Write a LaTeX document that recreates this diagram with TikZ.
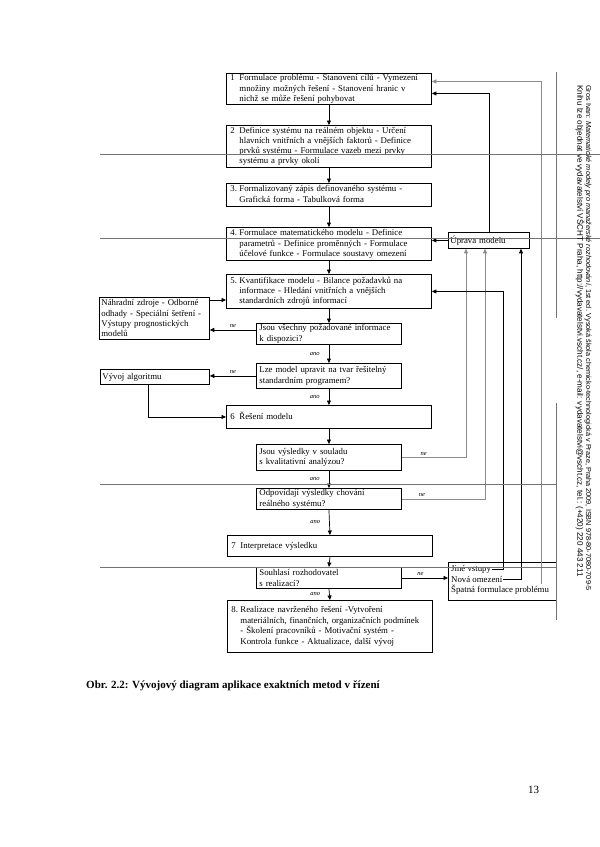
\documentclass[tikz,border=0pt]{standalone}
\usepackage{fontspec}
\setmainfont{Liberation Serif}
\newfontfamily\bocnifont{Liberation Sans}
\usetikzlibrary{arrows.meta,positioning}

\newcommand{\hlavni}{\fontsize{8.8}{10.3}\selectfont}
\newcommand{\malepismo}{\fontsize{6.5}{7}\selectfont\itshape}
\newcommand{\cislo}[1]{\begin{tabular}{@{}p{9pt}@{}l@{}}#1\end{tabular}}

\tikzset{
  krok/.style={draw, line width=0.9pt, anchor=north west, inner xsep=4pt, inner ysep=0pt, text width=197pt, font=\hlavni},
  rozhod/.style={draw, line width=0.9pt, anchor=north west, inner xsep=3pt, inner ysep=0pt, text width=139pt, align=left, font=\hlavni},
  vedlejsi/.style={draw, line width=0.8pt, anchor=north west, inner xsep=2pt, inner ysep=0pt, align=left, font=\hlavni},
  radek/.style={anchor=west, inner sep=1pt, font=\hlavni},
  sipka/.style={-{Triangle[length=4.5pt,width=4pt]}, line width=0.7pt},
  seda/.style={draw=black!45},
  popis/.style={font=\malepismo, inner sep=0pt},
  okraj/.style={draw=black!55, line width=0.6pt},
  bocni/.style={rotate=-90, anchor=west, inner sep=0pt}
}

\begin{document}
\begin{tikzpicture}[x=1pt, y=-1pt]
  \path[use as bounding box, fill=white] (0,0) rectangle (600,847);

  % hlavni kroky
  \node[krok, minimum height=31pt] (B1) at (226,73) {\cislo{1 & Formulace problému - Stanovení cílů - Vymezení\\ & množiny možných řešení - Stanovení hranic v\\ & nichž se může řešení pohybovat}};
  \node[krok, minimum height=42pt] (B2) at (226,125) {\cislo{2 & Definice systému na reálném objektu - Určení\\ & hlavních vnitřních a vnějších faktorů - Definice\\ & prvků systému - Formulace vazeb mezi prvky\\ & systému a prvky okolí}};
  \node[krok, minimum height=23pt] (B3) at (226,183) {\cislo{3. & Formalizovaný zápis definovaného systému -\\ & Grafická forma - Tabulková forma}};
  \node[krok, minimum height=33pt] (B4) at (226,227) {\cislo{4. & Formulace matematického modelu - Definice\\ & parametrů - Definice proměnných - Formulace\\ & účelové funkce - Formulace soustavy omezení}};
  \node[krok, minimum height=34pt] (B5) at (226,274) {\cislo{5. & Kvantifikace modelu - Bilance požadavků na\\ & informace - Hledání vnitřních a vnějších\\ & standardních zdrojů informací}};
  \node[krok, minimum height=23pt] (B6) at (226,405) {\cislo{6 & Řešení modelu}};
  \node[krok, minimum height=21pt] (B7) at (227,535) {\cislo{7 & Interpretace výsledku}};
  \node[krok, minimum height=52pt] (B8) at (227,600) {\cislo{8. & Realizace navrženého řešení -Vytvoření\\ & materiálních, finančních, organizačních podmínek\\ & - Školení pracovníků - Motivační systém -\\ & Kontrola funkce - Aktualizace, další vývoj}};

  % rozhodovani
  \node[rozhod, minimum height=21pt] (D1) at (256,323) {Jsou všechny požadované informace\\k dispozici?};
  \node[rozhod, minimum height=25pt] (D2) at (256,363) {Lze model upravit na tvar řešitelný\\standardním programem?};
  \node[rozhod, minimum height=26pt] (D3) at (256,444) {Jsou výsledky v souladu\\s kvalitativní analýzou?};
  \node[rozhod, minimum height=21pt] (D4) at (256,488) {Odpovídají výsledky chování\\reálného systému?};
  \node[rozhod, minimum height=21pt] (D5) at (256,567) {Souhlasí rozhodovatel\\s realizací?};

  % vedlejsi bloky
  \node[vedlejsi, text width=106pt, minimum height=42pt] (LB) at (99,297) {Náhradní zdroje - Odborné\\odhady - Speciální šetření -\\Výstupy prognostických\\modelů};
  \node[vedlejsi, text width=105pt, minimum height=15pt] (VA) at (100,369) {Vývoj algoritmu};
  \node[vedlejsi, text width=77pt, minimum height=16pt] (UM) at (448,232) {Úprava modelu};
  \node[vedlejsi, minimum width=108pt, minimum height=38pt] (SB) at (448,562) {};
  \node[radek] (JV) at (450,569) {Jiné vstupy};
  \node[radek] (NO) at (450,579.5) {Nová omezení};
  \node[radek] (SF) at (450,590) {Špatná formulace problému};

  % hlavni tok
  \draw[sipka] (B1.south) -- (B2.north);
  \draw[sipka] (B2.south) -- (B3.north);
  \draw[sipka] (B3.south) -- (B4.north);
  \draw[sipka] (B4.south) -- (B5.north);
  \draw[sipka] (B5.south) -- (D1.north);
  \draw[sipka] (D1.south) -- node[popis, left=9pt] (ano1) {ano} (D2.north);
  \draw[sipka] (D2.south) -- node[popis, left=9pt] (ano2) {ano} (B6.north);
  \draw[sipka] (B6.south) -- (D3.north);
  \draw[sipka] (D3.south) -- node[popis, left=9pt] (ano3) {ano} (D4.north);
  \draw[sipka] (D4.south) -- node[popis, left=9pt] (ano4) {ano} (B7.north);
  \draw[sipka] (B7.south) -- (D5.north);
  \draw[sipka] (D5.south) -- node[popis, left=9pt] (ano5) {ano} (B8.north);

  % vetve ne
  \path ([yshift=4pt]D1.west) coordinate (d1);
  \draw[sipka] (d1) -- node[popis, above=2pt] (ne1) {ne} (d1 -| LB.east);
  \path ([yshift=-3pt]LB.north east) coordinate (lb1);
  \draw[sipka] (lb1) -- (lb1 -| B5.west);
  \draw[sipka] (D2.west) -- node[popis, above=2pt] (ne2) {ne} (D2.west -| VA.east);
  \draw[sipka] ([xshift=-7pt]VA.south) |- (B6.west);
  \draw[sipka, seda] (D3.east) -| node[popis, pos=0.17, above=2pt] (ne3) {ne} ([xshift=18pt]UM.south west);
  \draw[sipka, seda] (D4.east) -| node[popis, pos=0.12, above=2pt] (ne4) {ne} ([xshift=37pt]UM.south west);
  \draw[sipka] (D5.east) -- node[popis, pos=0.4, above=2pt] (ne5) {ne} (D5.east -| SB.west);

  % zpetne vazby
  \draw[sipka] (UM.west) -- (UM.west -| B4.east);
  \draw[sipka] (UM.north) |- ([yshift=-4.5pt]B1.east);
  \coordinate (jv) at (503,0);
  \draw[sipka] (JV.east) -| (jv |- B5.east) -- (B5.east);
  \draw[sipka] (NO.east) -| ([xshift=73pt]UM.south west);
  \draw[sipka, seda] ([xshift=-9pt]SF.north east) |- ([yshift=7.5pt]B1.east);

  % cary stranky
  \draw[okraj] (100,154) -- (600,154);
  \draw[okraj] (100,238) -- (600,238);
  \draw[okraj] (100,484) -- (556,484);
  \draw[okraj] (100,567) -- (556,567);
  \draw[okraj] (556,72) -- (556,318);
  \draw[okraj] (556,403) -- (556,620);

  % texty stranky
  \node[bocni, font=\bocnifont\fontsize{7.3}{8}\selectfont] (zdroj) at (588,85) {Gros Ivan: \textit{Matematické modely pro manažerské rozhodování}, 1st ed. Vysoká škola chemicko-technologická v Praze, Praha 2009, ISBN 978-80-7080-709-5};
  \node[bocni, font=\bocnifont\fontsize{8.1}{8}\selectfont] (objednavka) at (580,85) {Knihu lze objednat ve vydavatelství VŠCHT Praha, http://vydavatelstvi.vscht.cz/, e-mail: vydavatelstvi@vscht.cz, tel.: (+420) 220 443 211};
  \node[anchor=west, inner sep=0pt, font=\bfseries\fontsize{11}{13}\selectfont] (popisek) at (86,686) {Obr. 2.2: Vývojový diagram aplikace exaktních metod v řízení};
  \node[anchor=west, inner sep=0pt, font=\fontsize{11}{13}\selectfont] (strana) at (528,790) {13};
\end{tikzpicture}
\end{document}
